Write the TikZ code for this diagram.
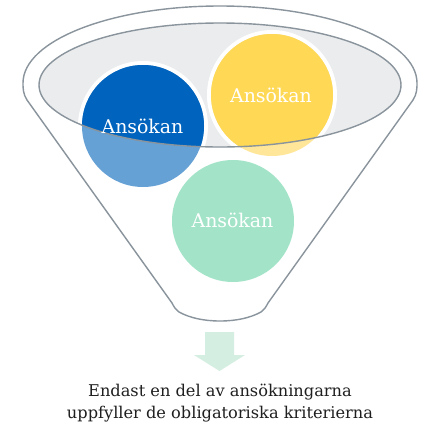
\documentclass[tikz,border=0pt]{standalone}
\usepackage{fontspec}
\setmainfont{DejaVu Serif}
\definecolor{bluedark}{HTML}{0063BE}
\definecolor{bluelight}{HTML}{66A1D6}
\definecolor{yellowdark}{HTML}{FFD955}
\definecolor{yellowlight}{HTML}{FFE699}
\definecolor{tealc}{HTML}{A3E4C9}
\definecolor{rimfill}{HTML}{EBECEE}
\definecolor{rimline}{HTML}{8A949C}
\definecolor{arrowc}{HTML}{D5EEE2}
\tikzset{
  funnel/.style={draw=rimline, line width=1.4pt, line join=round},
  ball/.style={circle, inner sep=0pt, minimum size=122pt},
  balltext/.style={text=white, font=\fontsize{18.9}{20}\selectfont, inner sep=0pt},
}
\begin{document}
\begin{tikzpicture}[x=1pt,y=-1pt]
\useasboundingbox[fill=white] (0,0) rectangle (428,429);
% funnel outline
\draw[funnel] (27,100) .. controls (23,94) and (23,88) .. (23,83)
  arc[start angle=180,end angle=360,x radius=197,y radius=77]
  .. controls (417,88) and (417,94) .. (413,100)
  -- (268,303) .. controls (266,307) and (264,310) .. (261,312)
  .. controls (250,318) and (236,321) .. (220,321)
  .. controls (204,321) and (190,318) .. (179,312)
  .. controls (176,310) and (174,307) .. (172,303) -- cycle;
% inner rim
\coordinate (rim) at (220,85);
\fill[rimfill] (rim) ellipse[x radius=181,y radius=62];
% balls
\node[ball] (b1) at (143,126) {};
\node[ball] (b2) at (272,95) {};
\node[ball] (b3) at (233,221) {};
\foreach \n/\l in {b1/bluelight, b2/yellowlight, b3/tealc}{
  \draw[white, line width=4pt] (\n.center) circle (63);
  \fill[\l] (\n.center) circle (61);
}
\begin{scope}
  \clip (rim) ellipse[x radius=181,y radius=62];
  \fill[bluedark] (b1.center) circle (61);
  \fill[yellowdark] (b2.center) circle (61);
\end{scope}
\draw[rimline, line width=1.4pt] (rim) ellipse[x radius=181,y radius=62];
\node[balltext] (t1) at (142.5,126) {Ansökan};
\node[balltext] (t2) at (271,95) {Ansökan};
\node[balltext] (t3) at (232.5,220) {Ansökan};
% arrow
\fill[arrowc] (205,332) -- (234,332) -- (234,355) -- (245,355) -- (219.5,371)
  -- (194,355) -- (205,355) -- cycle;
\node[align=center, font=\fontsize{16.2}{21.6}\selectfont, text=black!88, inner sep=0pt]
  (cap) at (220,403) {Endast en del av ansökningarna\\uppfyller de obligatoriska kriterierna};
\end{tikzpicture}
\end{document}
